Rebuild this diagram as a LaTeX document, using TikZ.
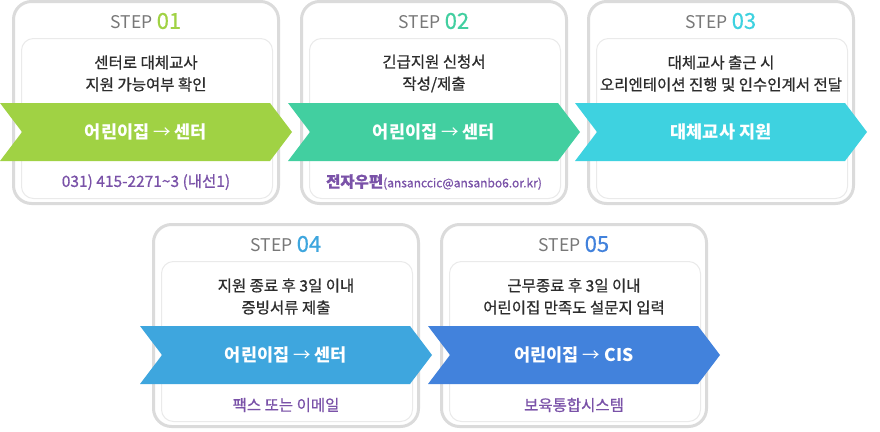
\documentclass[tikz,border=0pt]{standalone}
\usepackage{fontspec}
\setmainfont{Noto Sans CJK KR}
\newfontfamily\medfont{Noto Sans CJK KR}[FakeBold=0.7]
\newfontfamily\numfont{Noto Sans CJK KR}[FakeBold=0.5]
\definecolor{c1}{RGB}{160,210,68}
\definecolor{c2}{RGB}{66,207,160}
\definecolor{c3}{RGB}{62,210,224}
\definecolor{c4}{RGB}{62,166,222}
\definecolor{c5}{RGB}{66,130,220}
\definecolor{purp}{RGB}{122,82,168}
\definecolor{stepgray}{RGB}{120,120,120}
\definecolor{desccol}{RGB}{45,45,45}
\definecolor{outerline}{RGB}{219,219,219}
\definecolor{innerline}{RGB}{234,234,234}
\tikzset{
  outerbox/.style={draw=outerline, line width=3pt, rounded corners=18pt, fill=white},
  innerbox/.style={draw=innerline, line width=1pt, rounded corners=12pt},
  steptitle/.style={text=stepgray, inner sep=0pt, font=\fontsize{17.5}{20}\selectfont},
  desctext/.style={text=desccol, inner sep=0pt, align=center, font=\medfont\fontsize{15.5}{22}\selectfont},
  bandtext/.style={text=white, inner sep=0pt, font=\fontsize{17.5}{20}\selectfont\bfseries},
  notetext/.style={text=purp, inner sep=0pt, font=\medfont\fontsize{15.5}{18}\selectfont},
}
\newcommand\thinarrow{{\mdseries →}}
\newcommand\stepcard[8]{%
  \begin{scope}[shift={(#1,#2)}]
    \draw[outerbox] (1.5,1.5) rectangle (266.5,203.5);
    \draw[innerbox] (9.5,38.5) rectangle (260.5,198.5);
    \fill[#3] (-12,103) -- (258,103) -- (280,132) -- (258,161) -- (-12,161) -- (10,132) -- cycle;
    \node[steptitle] (#8t) at (134,21) {STEP {\numfont\fontsize{22}{24}\selectfont\color{#3}#4}};
    \node[desctext] (#8d) at (134,73.5) {#5};
    \node[bandtext] (#8a) at (134,132) {#6};
    \node[notetext] (#8n) at (134,182) {#7};
  \end{scope}%
}
\begin{document}
\begin{tikzpicture}[x=1pt,y=-1pt]
\useasboundingbox (0,0) rectangle (880,431);
\stepcard{12}{0}{c1}{01}{센터로 대체교사\\지원 가능여부 확인}{어린이집 \thinarrow{} 센터}{031) 415-2271\textasciitilde3 (내선1)}{sa}
\stepcard{300}{0}{c2}{02}{긴급지원 신청서\\작성/제출}{어린이집 \thinarrow{} 센터}{{\fontsize{15.5}{18}\selectfont\bfseries 전자우편}{\fontsize{12}{14}\selectfont(ansanccic@ansanbo6.or.kr)}}{sb}
\stepcard{587}{0}{c3}{03}{대체교사 출근 시\\오리엔테이션 진행 및 인수인계서 전달}{대체교사 지원}{}{sc}
\stepcard{152}{223}{c4}{04}{지원 종료 후 3일 이내\\증빙서류 제출}{어린이집 \thinarrow{} 센터}{팩스 또는 이메일}{sd}
\stepcard{440}{223}{c5}{05}{근무종료 후 3일 이내\\어린이집 만족도 설문지 입력}{어린이집 \thinarrow{} CIS}{보육통합시스템}{se}
\end{tikzpicture}
\end{document}
